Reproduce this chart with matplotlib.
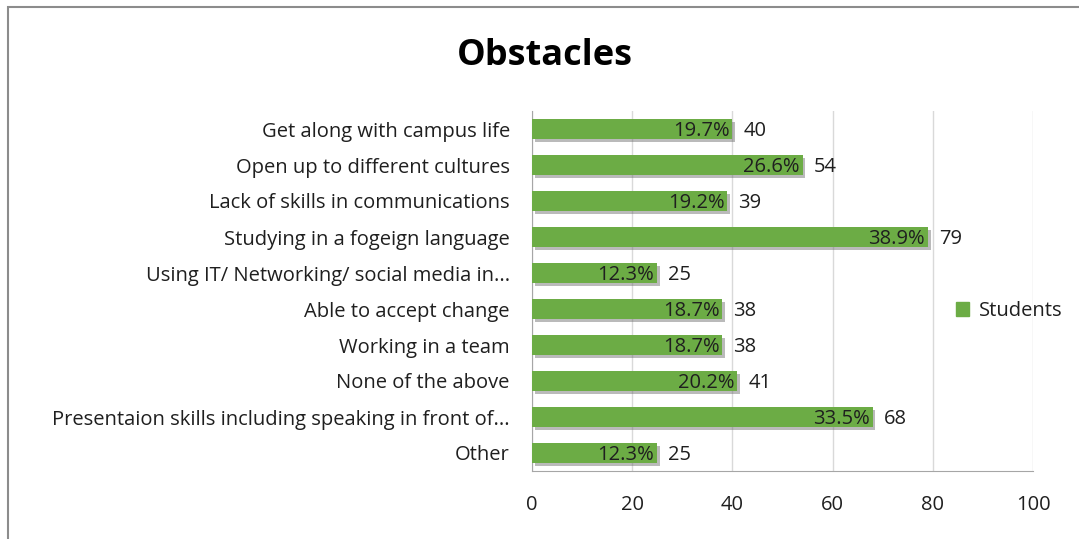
import matplotlib.pyplot as plt
import matplotlib.patheffects as pe
from matplotlib.patches import Rectangle, Patch

plt.rcParams['font.family'] = ['Open Sans', 'DejaVu Sans']

categories = [
    "Get along with campus life",
    "Open up to different cultures",
    "Lack of skills in communications",
    "Studying in a fogeign language",
    "Using IT/ Networking/ social media in...",
    "Able to accept change",
    "Working in a team",
    "None of the above",
    "Presentaion skills including speaking in front of...",
    "Other",
]
counts = [40, 54, 39, 79, 25, 38, 38, 41, 68, 25]
percents = ["19.7%", "26.6%", "19.2%", "38.9%", "12.3%", "18.7%", "18.7%", "20.2%", "33.5%", "12.3%"]
xticks = [0, 20, 40, 60, 80, 100]

green = '#6cac45'
text_col = '#1f1f1f'
fs = 14.5

fig = plt.figure(figsize=(10.79, 5.39), dpi=100)
# chart border (runs off the right and bottom edges)
fig.patches.append(Rectangle((8 / 1079, -0.2), 1.2, 1.2 - 7 / 539, transform=fig.transFigure,
                             fill=False, edgecolor='#8c8c8c', linewidth=1.5))

ax = fig.add_axes([532 / 1079, 1 - 471 / 539, 501 / 1079, 360 / 539])

ypos = list(range(len(categories)))[::-1]
bars = ax.barh(ypos, counts, height=0.56, color=green, label='Students', zorder=3)
for b in bars:
    b.set_path_effects([pe.SimplePatchShadow(offset=(2, -2), shadow_rgbFace='#666666', alpha=0.45),
                        pe.Normal()])

for y, c, p in zip(ypos, counts, percents):
    ax.text(c - 0.6, y, p, ha='right', va='center_baseline', fontsize=fs, color=text_col, zorder=4)
    ax.text(c + 2.2, y, str(c), ha='left', va='center_baseline', fontsize=fs, color=text_col, zorder=4)

ax.set_xlim(0, 100)
ax.set_ylim(-0.5, len(categories) - 0.5)
ax.set_xticks(xticks)
ax.set_yticks(ypos)
ax.set_yticklabels(categories)
ax.tick_params(axis='x', length=0, pad=17, labelsize=fs, colors=text_col)
ax.tick_params(axis='y', length=0, pad=16, labelsize=fs, colors=text_col)
ax.xaxis.grid(True, color='#d9d9d9', linewidth=1)
ax.set_axisbelow(True)
for s in ['top', 'right']:
    ax.spines[s].set_visible(False)
ax.spines['left'].set_color('#a6a6a6')
ax.spines['bottom'].set_color('#a6a6a6')

fig.text(545 / 1079, 1 - 56 / 539, 'Obstacles', ha='center', va='center',
         fontsize=26, fontweight='bold', color='black')

fig.legend(handles=[Patch(color=green, label='Students')], loc='center left',
           bbox_to_anchor=(938 / 1079, 1 - 311 / 539), frameon=False,
           fontsize=fs, handlelength=0.65, handleheight=0.65, handletextpad=0.5,
           labelcolor=text_col)

fig.savefig('out.png', dpi=100)
